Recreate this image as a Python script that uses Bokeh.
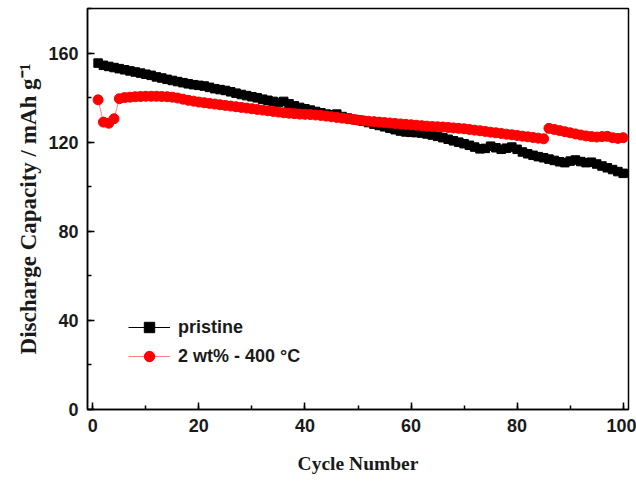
from bokeh.plotting import figure
from bokeh.models import SingleIntervalTicker, Range1d, Legend, LegendItem
from bokeh.embed import file_html
from bokeh.resources import INLINE

cycles = list(range(1, 101))

pristine = [
    155.5, 154.5, 154.0, 153.5, 153.0, 152.5, 152.0, 151.5, 151.0, 150.5,
    150.0, 149.3, 148.8, 148.2, 147.7, 147.2, 146.7, 146.2, 145.8, 145.5,
    145.2, 144.6, 144.0, 143.6, 143.2, 142.6, 142.0, 141.4, 140.9, 140.4,
    139.9, 139.3, 138.8, 138.3, 137.8, 138.3, 137.2, 136.3, 135.6, 135.0,
    134.4, 133.8, 133.2, 132.6, 132.3, 132.6, 131.5, 130.8, 130.3, 129.9,
    129.4, 128.8, 128.1, 127.5, 126.9, 126.3, 125.6, 125.0, 124.6, 124.4,
    124.3, 124.1, 123.7, 123.2, 122.6, 122.0, 121.3, 120.6, 120.0, 119.3,
    118.6, 117.8, 117.0, 117.2, 118.2, 117.5, 116.8, 117.3, 117.8, 116.8,
    115.6, 114.8, 114.1, 113.5, 113.0, 112.4, 111.8, 111.2, 110.8, 111.5,
    112.0, 111.3, 110.8, 111.0, 110.2, 109.3, 108.5, 107.7, 106.8, 106.0,
]

doped = [
    139.0, 129.0, 128.5, 130.5, 139.5, 140.0, 140.2, 140.4, 140.5, 140.6,
    140.6, 140.6, 140.5, 140.4, 140.2, 139.8, 139.3, 138.8, 138.4, 138.0,
    137.7, 137.4, 137.1, 136.8, 136.5, 136.2, 135.9, 135.6, 135.3, 135.0,
    134.7, 134.4, 134.1, 133.8, 133.5, 133.2, 133.0, 132.8, 132.6, 132.5,
    132.4, 132.2, 132.0, 131.7, 131.4, 131.1, 130.8, 130.5, 130.2, 129.9,
    129.6, 129.4, 129.2, 129.0, 128.8, 128.6, 128.4, 128.2, 128.0, 127.8,
    127.6, 127.4, 127.2, 127.0, 126.9, 126.8, 126.6, 126.4, 126.2, 126.0,
    125.7, 125.4, 125.1, 124.8, 124.5, 124.2, 123.9, 123.6, 123.3, 123.0,
    122.7, 122.4, 122.1, 121.8, 121.5, 126.2, 125.7, 125.2, 124.7, 124.2,
    123.7, 123.2, 122.8, 122.5, 122.3, 122.5, 122.6, 122.0, 121.7, 122.0,
]

series_labels = ["pristine", "2 wt% - 400 \u00b0C"]
x_label = "Cycle Number"
y_label = "Discharge Capacity / mAh g\u207b\u00b9"

p = figure(width=636, height=481, output_backend="svg", toolbar_location=None,
           x_range=Range1d(-1, 101), y_range=Range1d(0, 180),
           min_border_left=87, min_border_right=8, min_border_top=8,
           min_border_bottom=72)

p.xgrid.visible = False
p.ygrid.visible = False
p.outline_line_color = "black"
p.outline_line_width = 1.5
p.background_fill_color = "white"
p.border_fill_color = "white"

p.xaxis.ticker = SingleIntervalTicker(interval=20, num_minor_ticks=2)
p.yaxis.ticker = SingleIntervalTicker(interval=40, num_minor_ticks=2)

for ax in (p.xaxis[0], p.yaxis[0]):
    ax.axis_line_color = "black"
    ax.axis_line_width = 1.5
    ax.major_tick_in = 7
    ax.major_tick_out = 0
    ax.minor_tick_in = 4
    ax.minor_tick_out = 0
    ax.major_tick_line_width = 1.5
    ax.minor_tick_line_width = 1.5
    ax.major_label_text_font = "Liberation Sans"
    ax.major_label_text_font_style = "bold"
    ax.major_label_text_font_size = "18px"
    ax.major_label_text_color = "#1a1a1a"
    ax.major_label_standoff = 9
    ax.axis_label_text_font = "Liberation Serif"
    ax.axis_label_text_font_style = "bold"
    ax.axis_label_text_color = "#1a1a1a"

p.xaxis.axis_label = x_label
p.yaxis.axis_label = y_label
p.xaxis.axis_label_standoff = 18
p.xaxis.axis_label_text_font_size = "19.5px"
p.yaxis.axis_label_text_font_size = "23px"
p.yaxis.axis_label_standoff = 4

l1 = p.line(cycles, pristine, line_color="black", line_width=1)
m1 = p.scatter(cycles, pristine, marker="square", size=8.5, fill_color="black",
               line_color="black")
l2 = p.line(cycles, doped, line_color="#ff8080", line_width=1)
m2 = p.scatter(cycles, doped, marker="circle", size=10, fill_color="#ff0000",
               line_color="#ff0000")

legend = Legend(items=[LegendItem(label=series_labels[0], renderers=[l1, m1]),
                       LegendItem(label=series_labels[1], renderers=[l2, m2])],
                location=(41, 40))
legend.border_line_color = None
legend.background_fill_alpha = 0
legend.label_text_font = "Liberation Sans"
legend.label_text_font_style = "bold"
legend.label_text_font_size = "18px"
legend.label_text_color = "#1a1a1a"
legend.glyph_width = 42
legend.glyph_height = 26
legend.label_height = 26
legend.spacing = 3
legend.padding = 10
legend.margin = 0
legend.label_standoff = 8
p.add_layout(legend, "center")

open("out.html", "w").write(file_html(p, INLINE))
